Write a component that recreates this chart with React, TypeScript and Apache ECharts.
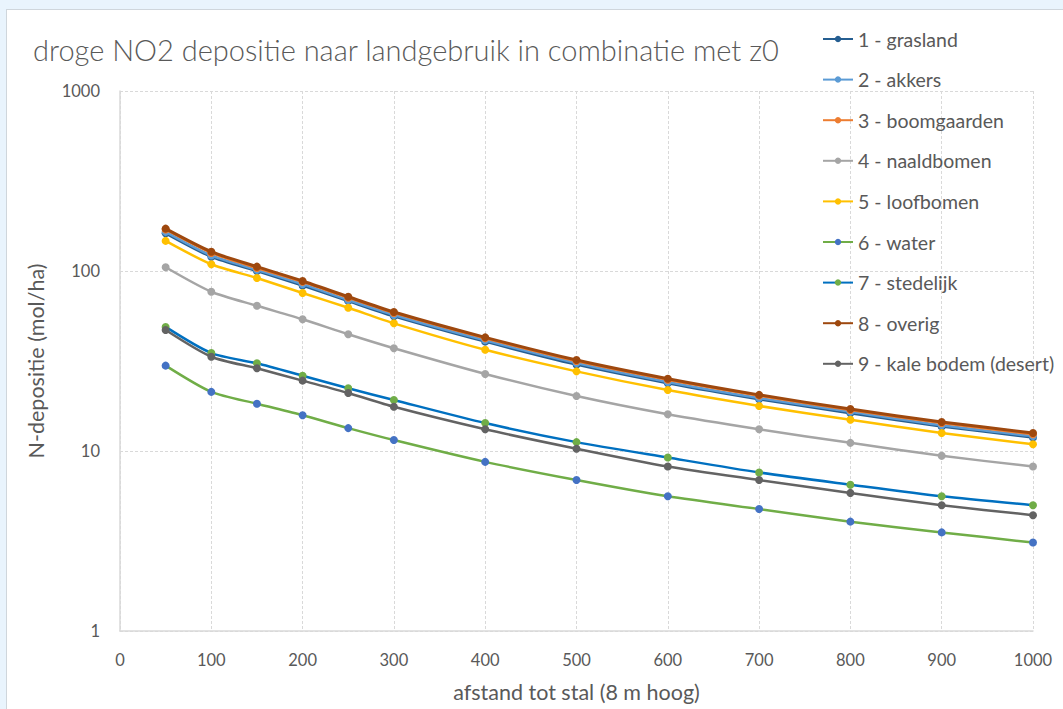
import React, { useEffect, useRef } from "react";
import * as echarts from "echarts";

const distances = [50, 100, 150, 200, 250, 300, 400, 500, 600, 700, 800, 900, 1000];

const seriesNames = [
  "1 - grasland",
  "2 - akkers",
  "3 - boomgaarden",
  "4 - naaldbomen",
  "5 - loofbomen",
  "6 - water",
  "7 - stedelijk",
  "8 - overig",
  "9 - kale bodem (desert)",
];

const grasland = [162, 120, 100, 83, 68, 56, 40.5, 30.2, 23.8, 19.4, 16.2, 13.7, 11.9];
const akkers = [165, 122, 101.5, 84.5, 69, 57, 41.2, 30.8, 24.2, 19.7, 16.5, 13.9, 12.1];
const boomgaarden = [170, 126, 104, 87, 71, 58.5, 42.3, 31.6, 24.9, 20.3, 16.9, 14.3, 12.4];
const naaldbomen = [104.9, 76.7, 64.1, 53.9, 44.5, 37.2, 26.8, 20.2, 16, 13.2, 11.1, 9.4, 8.2];
const loofbomen = [147, 109, 91.4, 75.5, 62.5, 51.2, 36.5, 27.7, 21.8, 17.8, 14.9, 12.6, 10.9];
const water = [29.8, 21.3, 18.3, 15.8, 13.4, 11.5, 8.7, 6.9, 5.6, 4.76, 4.05, 3.53, 3.1];
const stedelijk = [48.9, 35, 30.7, 26.2, 22.3, 19.2, 14.3, 11.2, 9.2, 7.6, 6.5, 5.6, 5.0];
const overig = [172, 128, 105.7, 88, 71.9, 59.2, 42.8, 32, 25.2, 20.5, 17.1, 14.5, 12.6];
const kaleBodem = [47, 33.4, 28.8, 24.6, 21, 17.6, 13.2, 10.3, 8.2, 6.9, 5.85, 5.0, 4.4];

const seriesValues = [grasland, akkers, boomgaarden, naaldbomen, loofbomen, water, stedelijk, overig, kaleBodem];
const lineColors = ["#255E91", "#5B9BD5", "#ED7D31", "#A5A5A5", "#FFC000", "#70AD47", "#0070C0", "#9E480E", "#636363"];
const markerColors = ["#255E91", "#5B9BD5", "#ED7D31", "#A5A5A5", "#FFC000", "#4472C4", "#70AD47", "#9E480E", "#636363"];

const FONT = "Lato, 'Open Sans', sans-serif";
const TEXT = "#595959";

export default function App() {
  const ref = useRef<HTMLDivElement>(null);
  useEffect(() => {
    if (!ref.current) return;
    const chart = echarts.init(ref.current, null, { renderer: "svg" });
    const series = seriesNames.map((name, i) => ({
      name,
      type: "line",
      data: distances.map((d, j) => [d, seriesValues[i][j]]),
      smooth: 0.25,
      symbol: "circle",
      symbolSize: 8,
      lineStyle: { color: lineColors[i], width: i === 7 ? 3 : 2.5 },
      itemStyle: { color: markerColors[i], borderWidth: 0 },
      z: 2 + i,
    }));
    chart.setOption({
      animation: false,
      textStyle: { fontFamily: FONT },
      title: {
        text: "droge NO2 depositie naar landgebruik in combinatie met z0",
        left: 28,
        top: 30,
        textStyle: { fontFamily: FONT, fontSize: 29, fontWeight: 300, color: TEXT },
      },
      legend: {
        orient: "vertical",
        left: 817,
        top: 24,
        itemGap: 20.6,
        itemWidth: 30,
        itemHeight: 8,
        data: seriesNames,
        textStyle: { fontFamily: FONT, fontSize: 19.5, lineHeight: 20, color: TEXT },
      },
      grid: { left: 120, right: 30, top: 91, bottom: 78 },
      xAxis: {
        type: "value",
        min: 0,
        max: 1000,
        interval: 100,
        name: "afstand tot stal (8 m hoog)",
        nameLocation: "middle",
        nameGap: 50,
        nameTextStyle: { fontFamily: FONT, fontSize: 21.5, color: TEXT },
        axisLine: { show: true, lineStyle: { color: "#D9D9D9", width: 1.5 } },
        axisTick: { show: false },
        axisLabel: { fontFamily: FONT, fontSize: 16.5, color: TEXT, margin: 20, formatter: (v: number) => String(v) },
        splitLine: { show: true, lineStyle: { color: "#D9D9D9", type: [3, 2] } },
      },
      yAxis: {
        type: "log",
        logBase: 10,
        min: 1,
        max: 1000,
        name: "N-depositie (mol/ha)",
        nameLocation: "middle",
        nameGap: 73,
        nameRotate: 90,
        nameTextStyle: { fontFamily: FONT, fontSize: 21.5, color: TEXT },
        axisLine: { show: true, lineStyle: { color: "#D9D9D9", width: 1.5 } },
        axisTick: { show: false },
        axisLabel: { fontFamily: FONT, fontSize: 16.5, color: TEXT, margin: 20, formatter: (v: number) => String(v) },
        splitLine: { show: true, lineStyle: { color: "#D9D9D9", type: [3, 2] } },
      },
      series,
    });
    return () => chart.dispose();
  }, []);
  return (
    <div style={{ position: "fixed", left: 0, top: 0, width: 1063, height: 709, background: "#E9F4FD", overflow: "hidden" }}>
      <div style={{ position: "absolute", left: 6, top: 9, width: 1100, height: 760, background: "#FFFFFF", borderLeft: "1px solid #CFD6DC", borderTop: "1px solid #CFD6DC" }} />
      <div ref={ref} style={{ position: "absolute", left: 0, top: 0, width: 1063, height: 709 }} />
    </div>
  );
}
